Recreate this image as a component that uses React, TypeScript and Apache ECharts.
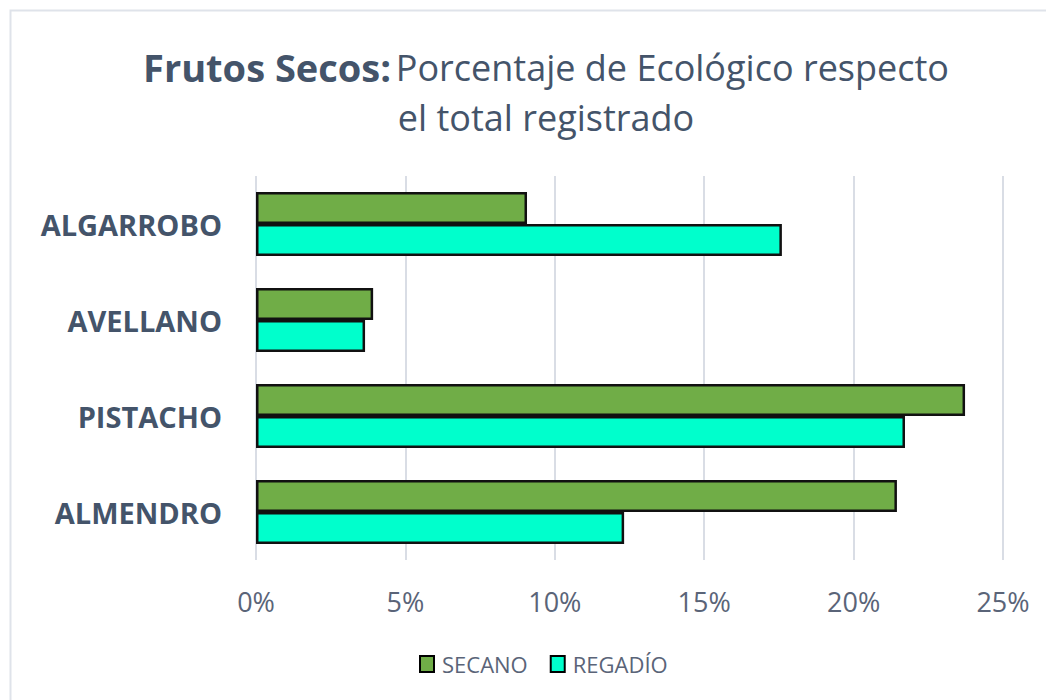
import React, { useEffect, useRef } from "react";
import * as echarts from "echarts";

const categories = ["ALMENDRO", "PISTACHO", "AVELLANO", "ALGARROBO"];
const secano = [21.45, 23.73, 3.92, 9.07];
const regadio = [12.32, 21.72, 3.65, 17.6];
const xTicks = [0, 5, 10, 15, 20, 25];

export default function App() {
  const ref = useRef<HTMLDivElement>(null);
  useEffect(() => {
    const chart = echarts.init(ref.current!, null, { renderer: "svg" });
    const font = "'Open Sans', 'Noto Sans', sans-serif";
    chart.setOption({
      animation: false,
      backgroundColor: "#ffffff",
      textStyle: { fontFamily: font },
      graphic: [
        {
          type: "rect",
          shape: { x: 10.5, y: 10.5, width: 1060, height: 720 },
          style: { fill: "none", stroke: "#dfe3ea", lineWidth: 2 },
          silent: true,
        },
      ],
      title: {
        text: "{b|Frutos Secos:} {n|Porcentaje de Ecológico respecto}\n{n|el total registrado}",
        left: 541,
        textAlign: "center",
        top: 37,
        textStyle: {
          rich: {
            b: { fontSize: 38, fontWeight: "bold", color: "#44546A", fontFamily: font, lineHeight: 50 },
            n: { fontSize: 36, fontWeight: "normal", color: "#44546A", fontFamily: font, lineHeight: 50 },
          },
        },
      },
      legend: {
        data: ["SECANO", "REGADÍO"],
        left: 414,
        top: 648,
        icon: "rect",
        itemWidth: 14,
        itemHeight: 16,
        itemGap: 22,
        itemStyle: { borderColor: "#000000", borderWidth: 2 },
        textStyle: { fontSize: 22, color: "#5a6478", fontFamily: font, padding: [0, 0, 0, 3] },
      },
      grid: { left: 256, right: 43, top: 176, bottom: 140, containLabel: false },
      xAxis: {
        type: "value",
        min: 0,
        max: 25,
        interval: 5,
        axisLabel: {
          formatter: (v: number) => (xTicks.includes(v) ? v + "%" : ""),
          fontSize: 27,
          color: "#5a6478",
          margin: 28,
        },
        axisLine: { show: false },
        axisTick: { show: false },
        splitLine: { lineStyle: { color: "#d9dde5", width: 2 } },
      },
      yAxis: {
        type: "category",
        data: categories,
        axisLabel: { fontSize: 29, fontWeight: "bold", color: "#44546A", margin: 34 },
        axisLine: { show: false },
        axisTick: { show: false },
      },
      series: [
        {
          name: "SECANO",
          type: "bar",
          data: secano,
          barWidth: 32,
          barGap: "0%",
          itemStyle: { color: "#70AD47", borderColor: "#111111", borderWidth: 2.5 },
        },
        {
          name: "REGADÍO",
          type: "bar",
          data: regadio,
          barWidth: 32,
          barGap: "0%",
          itemStyle: { color: "#00FFCC", borderColor: "#111111", borderWidth: 2.5 },
        },
      ],
    });
    return () => chart.dispose();
  }, []);
  return (
    <div
      ref={ref}
      style={{ position: "fixed", left: 0, top: 0, width: 1046, height: 700 }}
    />
  );
}
